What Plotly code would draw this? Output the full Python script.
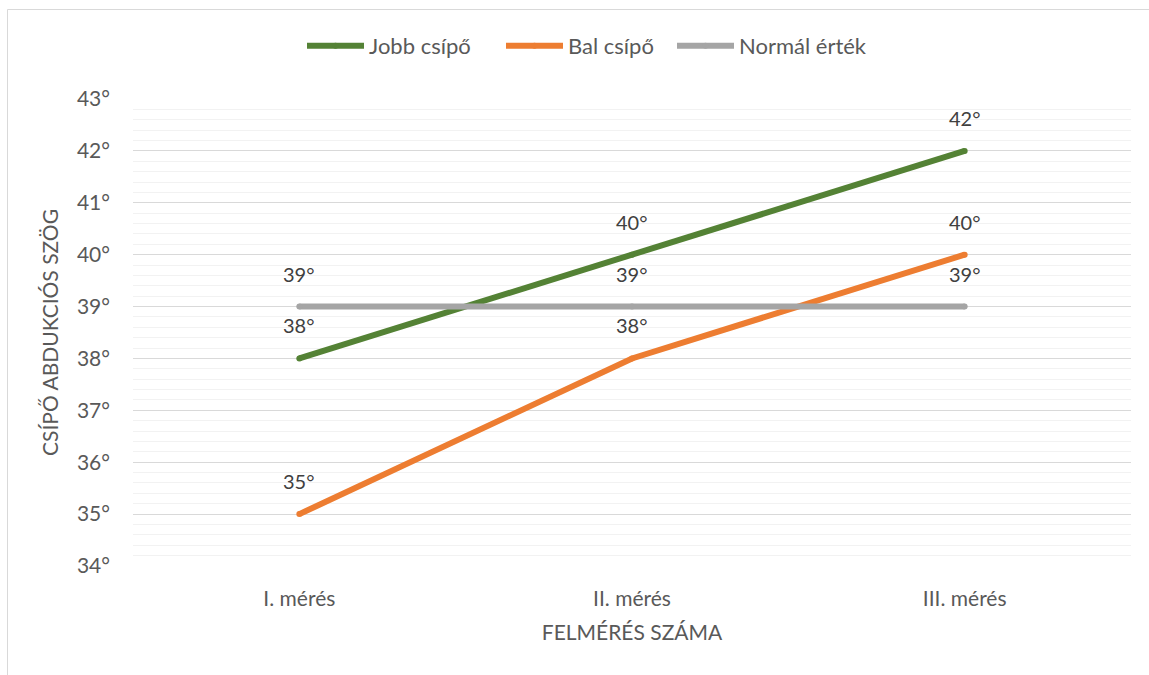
import plotly.graph_objects as go

# Measurement rounds and hip abduction angles (degrees)
categories = ["I. mérés", "II. mérés", "III. mérés"]
jobb_csipo = [38, 40, 42]
bal_csipo = [35, 38, 40]
normal_ertek = [39, 39, 39]

series = [
    ("Jobb csípő", jobb_csipo, "#548235", "legend", 302),
    ("Bal csípő", bal_csipo, "#ED7D31", "legend2", 501),
    ("Normál érték", normal_ertek, "#A5A5A5", "legend3", 672),
]

FONT = "Lato, 'Open Sans', sans-serif"
TEXT_COL = "#595959"
LABEL_COL = "#404040"

# plot area: x 133..1131 px, y 99..566 px
L, R, T, B = 133, 18, 99, 109
W, H = 1149, 675
pw, ph = W - L - R, H - T - B


def px_x(px):
    return (px - L) / pw


def px_y(py):
    return (H - B - py) / ph


fig = go.Figure()
annotations = []
legends = {}
for name, vals, col, leg, leg_x in series:
    fig.add_trace(go.Scatter(
        x=categories, y=vals, name=name, mode="lines+markers",
        line=dict(color=col, width=6),
        marker=dict(color=col, size=6, line=dict(width=0)),
        legend=leg,
        hoverinfo="x+y+name",
    ))
    legends[leg] = dict(
        orientation="h", x=px_x(leg_x), xanchor="left",
        y=px_y(46), yanchor="middle",
        font=dict(family=FONT, size=22, color=TEXT_COL),
        itemwidth=57, bgcolor="rgba(0,0,0,0)", borderwidth=0,
    )
    for c, v in zip(categories, vals):
        annotations.append(dict(
            x=c, y=v, xref="x", yref="y", text=f"{v}°",
            showarrow=False, yshift=33,
            font=dict(family=FONT, size=20, color=LABEL_COL),
        ))

fig.update_layout(
    width=W, height=H,
    margin=dict(l=L, r=R, t=T, b=B),
    paper_bgcolor="white", plot_bgcolor="white",
    font=dict(family=FONT, size=21, color=TEXT_COL),
    showlegend=True,
    annotations=annotations,
    shapes=[dict(
        type="rect", xref="paper", yref="paper",
        x0=px_x(7.5), x1=px_x(1160), y0=px_y(685), y1=px_y(9.5),
        line=dict(color="#D9D9D9", width=1), fillcolor="rgba(0,0,0,0)",
        layer="below",
    )],
    xaxis=dict(
        type="category", range=[-0.5, 2.5],
        showgrid=False, zeroline=False, showline=False,
        ticks="", ticklabelstandoff=18,
        tickfont=dict(family=FONT, size=21, color=TEXT_COL),
        title=dict(text="FELMÉRÉS SZÁMA", standoff=16,
                   font=dict(family=FONT, size=21, color=TEXT_COL)),
    ),
    yaxis=dict(
        range=[34, 43], dtick=1, tick0=34, ticksuffix="°",
        showgrid=True, gridcolor="#D9D9D9", gridwidth=1,
        zeroline=False, showline=False, ticks="", ticklabelstandoff=22,
        tickfont=dict(family=FONT, size=21, color=TEXT_COL),
        minor=dict(dtick=0.2, tick0=34, showgrid=True,
                   gridcolor="#F2F2F2", gridwidth=1),
        title=dict(text="CSÍPŐ ABDUKCIÓS SZÖG", standoff=12,
                   font=dict(family=FONT, size=21, color=TEXT_COL)),
    ),
    **legends,
)

fig.write_html("out.html")
